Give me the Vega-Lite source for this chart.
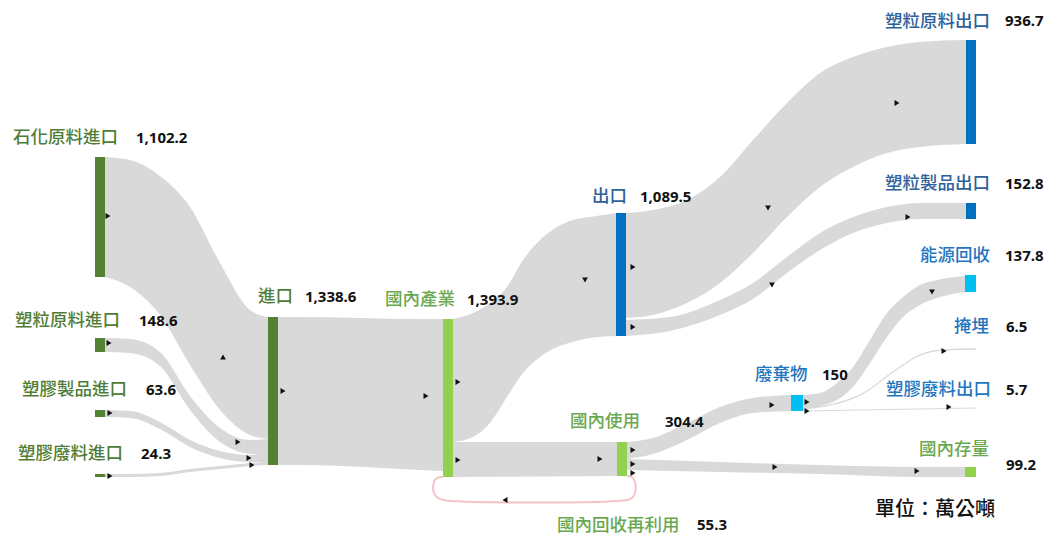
{
  "$schema": "https://vega.github.io/schema/vega-lite/v6.json",
  "width": 1051,
  "height": 535,
  "padding": 0,
  "autosize": {"type": "fit", "contains": "padding"},
  "config": {"view": {"stroke": null}},
  "datasets": {
    "links": [
      {"link": "A", "x": 105, "y": 157, "y2": 277},
      {"link": "A", "x": 130, "y": 160, "y2": 287},
      {"link": "A", "x": 160, "y": 176, "y2": 315},
      {"link": "A", "x": 190, "y": 207, "y2": 365},
      {"link": "A", "x": 220, "y": 263, "y2": 410},
      {"link": "A", "x": 250, "y": 310, "y2": 435},
      {"link": "A", "x": 268, "y": 317, "y2": 439},
      {"link": "B", "x": 105, "y": 338, "y2": 352},
      {"link": "B", "x": 130, "y": 339, "y2": 353},
      {"link": "B", "x": 160, "y": 352, "y2": 366},
      {"link": "B", "x": 190, "y": 396, "y2": 410},
      {"link": "B", "x": 220, "y": 428, "y2": 442},
      {"link": "B", "x": 250, "y": 440, "y2": 454},
      {"link": "B", "x": 268, "y": 439, "y2": 455},
      {"link": "C", "x": 105, "y": 410, "y2": 417},
      {"link": "C", "x": 130, "y": 411, "y2": 418},
      {"link": "C", "x": 160, "y": 422, "y2": 429},
      {"link": "C", "x": 190, "y": 440, "y2": 447},
      {"link": "C", "x": 220, "y": 451, "y2": 458},
      {"link": "C", "x": 250, "y": 455, "y2": 462},
      {"link": "C", "x": 268, "y": 455, "y2": 462},
      {"link": "D", "x": 105, "y": 474, "y2": 477},
      {"link": "D", "x": 130, "y": 474, "y2": 477},
      {"link": "D", "x": 160, "y": 473, "y2": 476},
      {"link": "D", "x": 190, "y": 469, "y2": 472},
      {"link": "D", "x": 220, "y": 466, "y2": 469},
      {"link": "D", "x": 250, "y": 463, "y2": 466},
      {"link": "D", "x": 268, "y": 462, "y2": 465},
      {"link": "E", "x": 278, "y": 317, "y2": 465},
      {"link": "E", "x": 300, "y": 317, "y2": 465},
      {"link": "E", "x": 420, "y": 319, "y2": 470},
      {"link": "E", "x": 443, "y": 319, "y2": 471},
      {"link": "F", "x": 453, "y": 319, "y2": 442},
      {"link": "F", "x": 473, "y": 313, "y2": 437},
      {"link": "F", "x": 490, "y": 303, "y2": 423},
      {"link": "F", "x": 507, "y": 287, "y2": 397},
      {"link": "F", "x": 523, "y": 260, "y2": 373},
      {"link": "F", "x": 540, "y": 240, "y2": 357},
      {"link": "F", "x": 557, "y": 227, "y2": 347},
      {"link": "F", "x": 573, "y": 220, "y2": 342},
      {"link": "F", "x": 590, "y": 217, "y2": 338},
      {"link": "F", "x": 616, "y": 213, "y2": 336},
      {"link": "G", "x": 453, "y": 442, "y2": 477},
      {"link": "G", "x": 617, "y": 442, "y2": 476},
      {"link": "H", "x": 626, "y": 213, "y2": 318},
      {"link": "H", "x": 653, "y": 210, "y2": 315},
      {"link": "H", "x": 687, "y": 200, "y2": 303},
      {"link": "H", "x": 720, "y": 177, "y2": 283},
      {"link": "H", "x": 753, "y": 140, "y2": 253},
      {"link": "H", "x": 787, "y": 103, "y2": 217},
      {"link": "H", "x": 820, "y": 73, "y2": 187},
      {"link": "H", "x": 853, "y": 57, "y2": 167},
      {"link": "H", "x": 887, "y": 47, "y2": 153},
      {"link": "H", "x": 920, "y": 42, "y2": 147},
      {"link": "H", "x": 966, "y": 40, "y2": 144},
      {"link": "I", "x": 626, "y": 320, "y2": 336},
      {"link": "I", "x": 670, "y": 317, "y2": 331},
      {"link": "I", "x": 720, "y": 300, "y2": 315},
      {"link": "I", "x": 753, "y": 283, "y2": 299},
      {"link": "I", "x": 787, "y": 257, "y2": 273},
      {"link": "I", "x": 820, "y": 233, "y2": 250},
      {"link": "I", "x": 853, "y": 217, "y2": 233},
      {"link": "I", "x": 887, "y": 207, "y2": 223},
      {"link": "I", "x": 920, "y": 203, "y2": 219},
      {"link": "I", "x": 966, "y": 203, "y2": 219},
      {"link": "J", "x": 627, "y": 442, "y2": 459},
      {"link": "J", "x": 653, "y": 438, "y2": 454},
      {"link": "J", "x": 687, "y": 423, "y2": 440},
      {"link": "J", "x": 720, "y": 407, "y2": 423},
      {"link": "J", "x": 753, "y": 398, "y2": 413},
      {"link": "J", "x": 791, "y": 395, "y2": 411},
      {"link": "K", "x": 627, "y": 459, "y2": 470},
      {"link": "K", "x": 720, "y": 462, "y2": 472},
      {"link": "K", "x": 820, "y": 465, "y2": 474},
      {"link": "K", "x": 920, "y": 467, "y2": 477},
      {"link": "K", "x": 965, "y": 467, "y2": 477},
      {"link": "L", "x": 803, "y": 395, "y2": 410},
      {"link": "L", "x": 820, "y": 393, "y2": 406},
      {"link": "L", "x": 837, "y": 383, "y2": 400},
      {"link": "L", "x": 853, "y": 367, "y2": 387},
      {"link": "L", "x": 870, "y": 340, "y2": 363},
      {"link": "L", "x": 887, "y": 313, "y2": 337},
      {"link": "L", "x": 903, "y": 297, "y2": 317},
      {"link": "L", "x": 920, "y": 285, "y2": 305},
      {"link": "L", "x": 937, "y": 280, "y2": 298},
      {"link": "L", "x": 965, "y": 276, "y2": 292},
      {"link": "M", "x": 803, "y": 408.3, "y2": 409.7},
      {"link": "M", "x": 860, "y": 394.3, "y2": 395.7},
      {"link": "M", "x": 893, "y": 371.3, "y2": 372.7},
      {"link": "M", "x": 920, "y": 354.3, "y2": 355.7},
      {"link": "M", "x": 943, "y": 349.3, "y2": 350.7},
      {"link": "M", "x": 976, "y": 348.3, "y2": 349.7},
      {"link": "N", "x": 803, "y": 410.4, "y2": 411.6},
      {"link": "N", "x": 976, "y": 407.4, "y2": 408.6}
    ],
    "loop": [
      {"i": 1, "x": 627, "y": 476},
      {"i": 2, "x": 632, "y": 477},
      {"i": 3, "x": 635, "y": 482},
      {"i": 4, "x": 635, "y": 493},
      {"i": 5, "x": 632, "y": 498},
      {"i": 6, "x": 627, "y": 500},
      {"i": 7, "x": 443, "y": 500},
      {"i": 8, "x": 438, "y": 498},
      {"i": 9, "x": 434, "y": 493},
      {"i": 10, "x": 434, "y": 482},
      {"i": 11, "x": 437, "y": 478},
      {"i": 12, "x": 443, "y": 477}
    ],
    "nodes": [
      {"name": "石化原料進口", "value": 1102.2, "g": "import", "x": 95, "x2": 105, "y": 157, "y2": 277},
      {"name": "塑粒原料進口", "value": 148.6, "g": "import", "x": 95, "x2": 105, "y": 338, "y2": 352},
      {"name": "塑膠製品進口", "value": 63.6, "g": "import", "x": 95, "x2": 105, "y": 410, "y2": 417},
      {"name": "塑膠廢料進口", "value": 24.3, "g": "import", "x": 95, "x2": 105, "y": 474, "y2": 477},
      {"name": "進口", "value": 1338.6, "g": "import", "x": 268, "x2": 278, "y": 317, "y2": 465},
      {"name": "國內產業", "value": 1393.9, "g": "domestic", "x": 443, "x2": 453, "y": 319, "y2": 477},
      {"name": "出口", "value": 1089.5, "g": "export", "x": 616, "x2": 626, "y": 213, "y2": 336},
      {"name": "國內使用", "value": 304.4, "g": "domestic", "x": 617, "x2": 627, "y": 442, "y2": 476},
      {"name": "廢棄物", "value": 150, "g": "waste", "x": 791, "x2": 803, "y": 395, "y2": 411},
      {"name": "塑粒原料出口", "value": 936.7, "g": "export", "x": 966, "x2": 976, "y": 40, "y2": 144},
      {"name": "塑粒製品出口", "value": 152.8, "g": "export", "x": 966, "x2": 976, "y": 203, "y2": 219},
      {"name": "能源回收", "value": 137.8, "g": "waste", "x": 965, "x2": 976, "y": 275, "y2": 292},
      {"name": "國內存量", "value": 99.2, "g": "domestic", "x": 965, "x2": 976, "y": 467, "y2": 477}
    ],
    "arrows": [
      {"x": 108, "y": 216, "d": "right"},
      {"x": 223, "y": 357, "d": "up"},
      {"x": 238, "y": 442, "d": "right"},
      {"x": 249, "y": 458, "d": "right"},
      {"x": 252, "y": 465, "d": "right"},
      {"x": 109, "y": 343, "d": "right"},
      {"x": 110, "y": 413, "d": "right"},
      {"x": 110, "y": 476, "d": "right"},
      {"x": 283, "y": 391, "d": "right"},
      {"x": 426, "y": 396, "d": "right"},
      {"x": 458, "y": 382, "d": "right"},
      {"x": 458, "y": 460, "d": "right"},
      {"x": 600, "y": 459, "d": "right"},
      {"x": 585, "y": 280, "d": "down"},
      {"x": 633, "y": 267, "d": "right"},
      {"x": 633, "y": 327, "d": "right"},
      {"x": 768, "y": 208, "d": "down"},
      {"x": 772, "y": 285, "d": "down"},
      {"x": 897, "y": 103, "d": "right"},
      {"x": 908, "y": 217, "d": "right"},
      {"x": 932, "y": 292, "d": "down"},
      {"x": 944, "y": 351, "d": "right"},
      {"x": 949, "y": 407, "d": "right"},
      {"x": 772, "y": 405, "d": "right"},
      {"x": 807, "y": 402, "d": "right"},
      {"x": 807, "y": 411, "d": "right"},
      {"x": 775, "y": 467, "d": "right"},
      {"x": 917, "y": 471, "d": "right"},
      {"x": 633, "y": 450, "d": "right"},
      {"x": 633, "y": 464, "d": "right"},
      {"x": 633, "y": 473, "d": "right"},
      {"x": 505, "y": 500, "d": "left"}
    ],
    "labels": [
      {"name": "石化原料進口", "val": "1,102.2", "g": "import", "lx": 13, "vx": 136, "ly": 138, "vy": 138},
      {"name": "塑粒原料進口", "val": "148.6", "g": "import", "lx": 15, "vx": 139, "ly": 321, "vy": 321},
      {"name": "塑膠製品進口", "val": "63.6", "g": "import", "lx": 22, "vx": 146, "ly": 390, "vy": 390},
      {"name": "塑膠廢料進口", "val": "24.3", "g": "import", "lx": 18, "vx": 141, "ly": 454, "vy": 454},
      {"name": "進口", "val": "1,338.6", "g": "import", "lx": 258, "vx": 305, "ly": 297, "vy": 297},
      {"name": "國內產業", "val": "1,393.9", "g": "domestic", "lx": 385, "vx": 467, "ly": 300, "vy": 300},
      {"name": "出口", "val": "1,089.5", "g": "export", "lx": 592, "vx": 640, "ly": 197, "vy": 197},
      {"name": "國內使用", "val": "304.4", "g": "domestic", "lx": 570, "vx": 665, "ly": 422, "vy": 422},
      {"name": "國內回收再利用", "val": "55.3", "g": "domestic", "lx": 557, "vx": 697, "ly": 526, "vy": 525},
      {"name": "廢棄物", "val": "150", "g": "waste", "lx": 755, "vx": 822, "ly": 375, "vy": 375},
      {"name": "塑粒原料出口", "val": "936.7", "g": "export", "lx": 885, "vx": 1005, "ly": 22, "vy": 21},
      {"name": "塑粒製品出口", "val": "152.8", "g": "export", "lx": 885, "vx": 1005, "ly": 184, "vy": 184},
      {"name": "能源回收", "val": "137.8", "g": "waste", "lx": 920, "vx": 1005, "ly": 256, "vy": 256},
      {"name": "掩埋", "val": "6.5", "g": "waste", "lx": 954, "vx": 1006, "ly": 327, "vy": 327},
      {"name": "塑膠廢料出口", "val": "5.7", "g": "waste", "lx": 886, "vx": 1006, "ly": 390, "vy": 390},
      {"name": "國內存量", "val": "99.2", "g": "domestic", "lx": 919, "vx": 1006, "ly": 450, "vy": 465}
    ],
    "unit": [{"text": "單位：萬公噸", "x": 875, "y": 510}]
  },
  "layer": [
    {
      "data": {"name": "links"},
      "mark": {"type": "area", "interpolate": "monotone", "color": "#d9d9d9"},
      "encoding": {
        "x": {"field": "x", "type": "quantitative", "scale": {"domain": [0, 1051], "nice": false, "zero": false}, "axis": null},
        "y": {"field": "y", "type": "quantitative", "scale": {"domain": [0, 535], "reverse": true, "nice": false, "zero": false}, "axis": null},
        "y2": {"field": "y2"},
        "detail": {"field": "link", "type": "nominal"}
      }
    },
    {
      "data": {"name": "loop"},
      "mark": {"type": "line", "interpolate": "catmull-rom", "color": "#f4c3c8", "strokeWidth": 2},
      "encoding": {
        "x": {"field": "x", "type": "quantitative"},
        "y": {"field": "y", "type": "quantitative"},
        "order": {"field": "i", "type": "quantitative"}
      }
    },
    {
      "data": {"name": "nodes"},
      "mark": {"type": "rect"},
      "encoding": {
        "x": {"field": "x", "type": "quantitative"},
        "x2": {"field": "x2"},
        "y": {"field": "y", "type": "quantitative"},
        "y2": {"field": "y2"},
        "color": {"field": "g", "type": "nominal", "legend": null,
          "scale": {"domain": ["import", "domestic", "export", "waste"], "range": ["#548235", "#92d050", "#0070c0", "#00bff3"]}}
      }
    },
    {
      "data": {"name": "arrows"},
      "mark": {"type": "point", "filled": true, "color": "#111111", "opacity": 1, "size": 34},
      "encoding": {
        "x": {"field": "x", "type": "quantitative"},
        "y": {"field": "y", "type": "quantitative"},
        "shape": {"field": "d", "type": "nominal", "legend": null,
          "scale": {"domain": ["right", "left", "up", "down"], "range": ["triangle-right", "triangle-left", "triangle-up", "triangle-down"]}}
      }
    },
    {
      "data": {"name": "labels"},
      "layer": [
        {
          "mark": {"type": "text", "align": "left", "baseline": "middle", "font": "Noto Sans CJK TC", "fontWeight": 500, "fontSize": 17.5},
          "encoding": {
            "x": {"field": "lx", "type": "quantitative"},
            "y": {"field": "ly", "type": "quantitative"},
            "text": {"field": "name"},
            "color": {"field": "g", "type": "nominal", "legend": null,
              "scale": {"domain": ["import", "domestic", "export", "waste"], "range": ["#4f7d35", "#6aa84f", "#2d619a", "#1f77c0"]}}
          }
        },
        {
          "mark": {"type": "text", "align": "left", "baseline": "middle", "font": "Noto Sans", "fontWeight": "bold", "fontSize": 15, "color": "#111111"},
          "encoding": {
            "x": {"field": "vx", "type": "quantitative"},
            "y": {"field": "vy", "type": "quantitative"},
            "text": {"field": "val"}
          }
        }
      ]
    },
    {
      "data": {"name": "unit"},
      "mark": {"type": "text", "align": "left", "baseline": "middle", "font": "Noto Sans CJK TC", "fontWeight": 500, "fontSize": 20, "color": "#111111"},
      "encoding": {
        "x": {"field": "x", "type": "quantitative"},
        "y": {"field": "y", "type": "quantitative"},
        "text": {"field": "text"}
      }
    }
  ],
  "resolve": {"scale": {"color": "independent"}}
}
